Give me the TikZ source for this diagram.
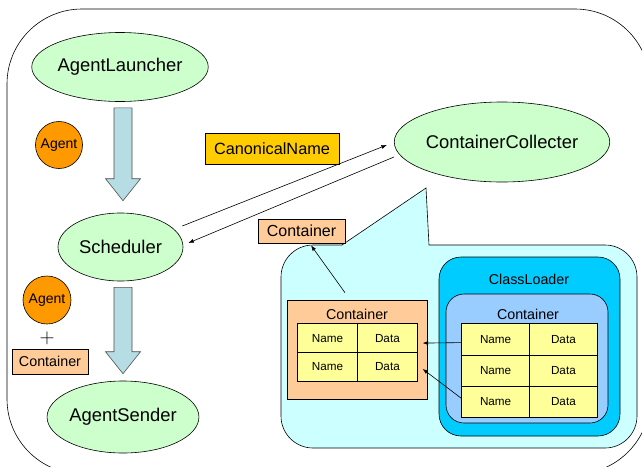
\documentclass[tikz,border=0pt]{standalone}
\usepackage{fontspec}
\setmainfont{Liberation Sans}
\usetikzlibrary{arrows.meta,positioning,calc,matrix,shapes.geometric}
\definecolor{procgreen}{HTML}{CCFFCC}
\definecolor{arrowblue}{HTML}{B7DDE4}
\definecolor{agentorange}{HTML}{FF9900}
\definecolor{namegold}{HTML}{FFCC00}
\definecolor{contpeach}{HTML}{FFCC99}
\definecolor{bubblecyan}{HTML}{CCFFFF}
\definecolor{loaderblue}{HTML}{00CCFF}
\definecolor{innerblue}{HTML}{99CCFF}
\definecolor{cellyellow}{HTML}{FFFF99}
\newcommand{\fsz}[1]{\fontsize{#1}{#1}\selectfont}
\newcommand{\bigarrow}[2]{%
  \draw[bigarr] let \p1=(#1), \p2=(#2) in
    (\x1-9pt,\y1) -- (\x1+9pt,\y1) -- (\x1+9pt,\y2+22pt) -- (\x1+17.5pt,\y2+22pt)
    -- (\x1,\y2) -- (\x1-17.5pt,\y2+22pt) -- (\x1-9pt,\y2+22pt) -- cycle;}
\tikzset{
  proc/.style={ellipse,draw=black,fill=procgreen,inner sep=0pt,font=\fsz{18.4}},
  agent/.style={circle,draw=black,fill=agentorange,inner sep=0pt,minimum size=47pt,font=\fsz{14}},
  contbox/.style={rectangle,draw=black,fill=contpeach,inner sep=0pt},
  bigarr/.style={draw=black!70,fill=arrowblue,line width=0.6pt},
  cell/.style={rectangle,draw=black,fill=cellyellow,inner sep=0pt,font=\fsz{11.7}},
  tab/.style={matrix of nodes,inner sep=0pt,column sep=-0.6pt,row sep=-0.6pt},
  conn/.style={-{Latex[length=5.5pt,width=4pt]},line width=0.6pt},
}
\begin{document}
\begin{tikzpicture}[x=1pt,y=-1pt,line width=0.6pt]
\clip (0,0) rectangle (642,466);
% frame
\draw[rounded corners=75pt] (7,9) rectangle (650,474);
% left column
\node (launcher) [proc,minimum width=146pt,minimum height=69pt] at (120,67) {AgentLauncher};
\node (sched) [proc,minimum width=125pt,minimum height=68pt] at (120.5,247) {Scheduler};
\node (sender) [proc,minimum width=140pt,minimum height=72pt] at (123,417) {AgentSender};
\node (coll) [proc,minimum width=175pt,minimum height=80pt] at (502,142) {ContainerCollecter};
\bigarrow{$(launcher.south)+(3,6)$}{$(sched.north)+(2.5,-12)$}
\bigarrow{$(sched.south)+(2.5,6)$}{$(sender.north)+(0,-7)$}
\node (agent1) [agent] at (59,145) {Agent};
\node (agent2) [agent,minimum size=48pt] at (47,300) {Agent};
\node (plus) [font=\fsz{20},inner sep=0pt] at (47,338) {$+$};
\node (cont1) [contbox,minimum width=76pt,minimum height=25pt,font=\fsz{14.3}] at (50,361.5) {Container};
\node (canon) [rectangle,draw=black,fill=namegold,minimum width=134pt,minimum height=31pt,inner sep=0pt,font=\fsz{16.3}] at (272,148.5) {CanonicalName};
%
\draw[conn] ($(sched.east)+(-1,-21)$) -- ($(coll.west)+(-7,3)$);
\draw[conn] ($(coll.west)+(0,15)$) -- ($(sched.east)+(5,-4)$);
% bubble
\draw[fill=bubblecyan,rounded corners=32pt] (281,245) rectangle (637,448);
\fill[bubblecyan] (343,247) -- (342,245) -- (426,188) -- (429,245) -- (428,247) -- cycle;
\draw (342,245) -- (426,188) -- (429,245);
\node (toplab) [contbox,minimum width=87pt,minimum height=24pt,font=\fsz{16}] at (301.5,231) {Container};
% class loader
\node (loader) [rectangle,draw=black,fill=loaderblue,rounded corners=22pt,minimum width=181pt,minimum height=179pt] at (529.5,346.5) {};
\node (loadtxt) [font=\fsz{14.3},inner sep=0pt] at (529,279) {ClassLoader};
\node (rcont) [rectangle,draw=black,fill=innerblue,rounded corners=18pt,minimum width=162pt,minimum height=129pt] at (527,358.5) {};
\node (rconttxt) [font=\fsz{14.3},inner sep=0pt] at (528,314) {Container};
\matrix (rtab) [tab,nodes={cell,minimum width=67.8pt,minimum height=31.4pt}] at (529.5,370.5) {
  Name & Data \\
  Name & Data \\
  Name & Data \\
};
% copied container
\node (lcont) [contbox,minimum width=140pt,minimum height=99pt] at (357,349.5) {};
\node (lconttxt) [font=\fsz{14.3},inner sep=0pt] at (357,314) {Container};
\matrix (ltab) [tab,nodes={cell,minimum width=59.8pt,minimum height=28.8pt}] at (357.5,352.5) {
  Name & Data \\
  Name & Data \\
};
%
\draw[conn] ($(lcont.north)+(-12,-7)$) -- ($(toplab.south)+(9.5,2)$);
\draw[conn] ($(rtab-1-1.west)+(0,3.5)$) -- ($(ltab-1-2.east)+(5,5)$);
\draw[conn] ($(rtab-3-1.west)+(0,-3.5)$) -- ($(ltab-2-2.east)+(5,2)$);
\end{tikzpicture}
\end{document}
